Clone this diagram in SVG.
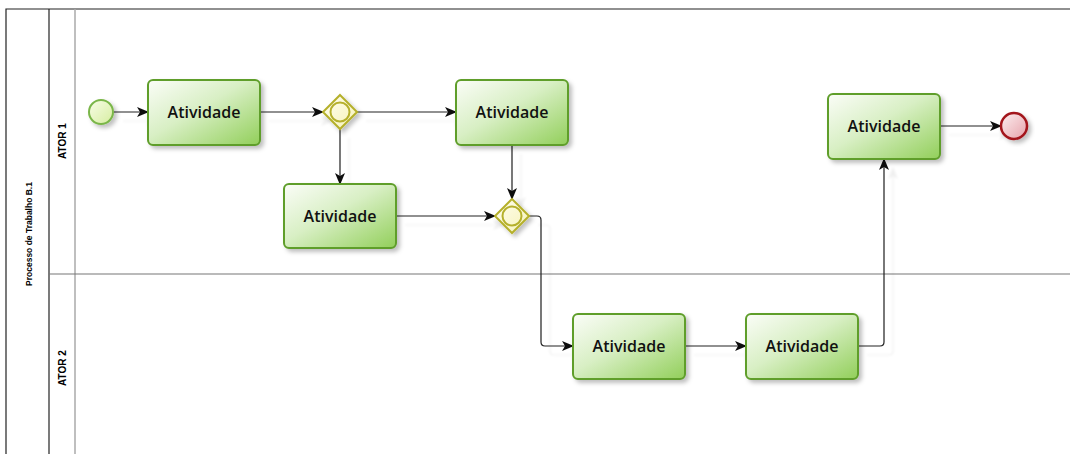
<svg xmlns="http://www.w3.org/2000/svg" width="1070" height="454" viewBox="0 0 1070 454">
  <style>
    .pool { fill: none; stroke: #222; stroke-width: 1.2; }
    .lane { fill: none; stroke: #777; stroke-width: 1.2; }
    .lanegrey { fill: none; stroke: #aaa; stroke-width: 1.5; }
    .lbl { font-family: "Liberation Sans", Arial, sans-serif; font-weight: bold; fill: #000; }
    .task rect { fill: url(#taskFill); stroke: #5f9e2b; stroke-width: 2; filter: url(#shadow); }
    .task text { font-family: "Open Sans", "DejaVu Sans", sans-serif; font-weight: 600; font-size: 16px; fill: #111; text-anchor: middle; dominant-baseline: central; }
    .gw path { fill: url(#gwFill); stroke: #b5b02c; stroke-width: 2; filter: url(#shadow); }
    .gw circle { fill: none; stroke: #b5b02c; stroke-width: 2; }
    .flow { fill: none; stroke: #222; stroke-width: 1.2; marker-end: url(#arrow); }
  </style>
  <defs>
    <linearGradient id="taskFill" x1="0" y1="0" x2="1" y2="1">
      <stop offset="0" stop-color="#fbfdf8"/>
      <stop offset="0.45" stop-color="#d8efc4"/>
      <stop offset="1" stop-color="#92cf5a"/>
    </linearGradient>
    <linearGradient id="gwFill" x1="0" y1="0" x2="1" y2="1">
      <stop offset="0" stop-color="#fffef0"/>
      <stop offset="1" stop-color="#f6f2b8"/>
    </linearGradient>
    <linearGradient id="startFill" x1="0" y1="0" x2="1" y2="1">
      <stop offset="0" stop-color="#f8fde8"/>
      <stop offset="1" stop-color="#d6eda0"/>
    </linearGradient>
    <linearGradient id="endFill" x1="0" y1="0" x2="1" y2="1">
      <stop offset="0" stop-color="#fdf0f1"/>
      <stop offset="1" stop-color="#e6a2aa"/>
    </linearGradient>
    <filter id="shadow" x="-20%" y="-20%" width="150%" height="150%">
      <feDropShadow dx="3" dy="3" stdDeviation="2" flood-color="#000" flood-opacity="0.25"/>
    </filter>
    <filter id="ghost" x="-5%" y="-5%" width="120%" height="120%">
      <feDropShadow dx="9" dy="9" stdDeviation="0.8" flood-color="#000" flood-opacity="0.06"/>
    </filter>
    <marker id="arrow" viewBox="0 0 12 10" refX="11" refY="5" markerWidth="12" markerHeight="10" markerUnits="userSpaceOnUse" orient="auto">
      <path d="M0,0 L12,5 L0,10 L3,5 Z" fill="#111"/>
    </marker>
  </defs>

  <!-- pool and lanes -->
  <g id="pool">
    <path class="pool" d="M6,454 V9 H1070"/>
    <line class="pool" x1="49" y1="9" x2="49" y2="454"/>
    <line class="lanegrey" x1="75" y1="9" x2="75" y2="454"/>
    <line class="lane" x1="49" y1="274" x2="1070" y2="274"/>
    <text class="lbl" font-size="8.5" text-anchor="middle" transform="translate(32,234) rotate(-90)">Processo de Trabalho B.1</text>
    <text class="lbl" font-size="10" text-anchor="middle" transform="translate(66,141) rotate(-90)">ATOR 1</text>
    <text class="lbl" font-size="10" text-anchor="middle" transform="translate(66,368) rotate(-90)">ATOR 2</text>
  </g>

  <!-- sequence flows -->
  <g id="connectors" filter="url(#ghost)">
    <path class="flow" d="M114,112 H148"/>
    <path class="flow" d="M260,112 H323"/>
    <path class="flow" d="M357,112 H456"/>
    <path class="flow" d="M340,129 V184"/>
    <path class="flow" d="M512,145 V199"/>
    <path class="flow" d="M396,216 H495"/>
    <path class="flow" d="M529,216 H537 Q541,216 541,220 V342 Q541,346 545,346 H573"/>
    <path class="flow" d="M685,346 H746"/>
    <path class="flow" d="M858,346 H880 Q884,346 884,342 V159"/>
    <path class="flow" d="M940,126 H1001"/>
  </g>

  <!-- events -->
  <g id="start">
    <circle cx="101" cy="112" r="12" fill="url(#startFill)" stroke="#7ab648" stroke-width="2" filter="url(#shadow)"/>
  </g>
  <g id="end">
    <circle cx="1014" cy="126" r="13" fill="url(#endFill)" stroke="#a3141b" stroke-width="2.5" filter="url(#shadow)"/>
  </g>

  <!-- gateways -->
  <g id="gateway1" class="gw">
    <path d="M340,95 L357,112 L340,129 L323,112 Z"/>
    <circle cx="340" cy="112" r="9.5"/>
  </g>
  <g id="gateway2" class="gw">
    <path d="M512,199 L529,216 L512,233 L495,216 Z"/>
    <circle cx="512" cy="216" r="9.5"/>
  </g>

  <!-- tasks -->
  <g id="task1" class="task">
    <rect x="148" y="80" width="112" height="65" rx="5"/>
    <text x="204" y="112">Atividade</text>
  </g>
  <g id="task2" class="task">
    <rect x="456" y="80" width="112" height="65" rx="5"/>
    <text x="512" y="112">Atividade</text>
  </g>
  <g id="task3" class="task">
    <rect x="284" y="184" width="112" height="64" rx="5"/>
    <text x="340" y="216">Atividade</text>
  </g>
  <g id="task4" class="task">
    <rect x="573" y="314" width="112" height="65" rx="5"/>
    <text x="629" y="346">Atividade</text>
  </g>
  <g id="task5" class="task">
    <rect x="746" y="314" width="112" height="65" rx="5"/>
    <text x="802" y="346">Atividade</text>
  </g>
  <g id="task6" class="task">
    <rect x="828" y="94" width="112" height="65" rx="5"/>
    <text x="884" y="126">Atividade</text>
  </g>
</svg>
